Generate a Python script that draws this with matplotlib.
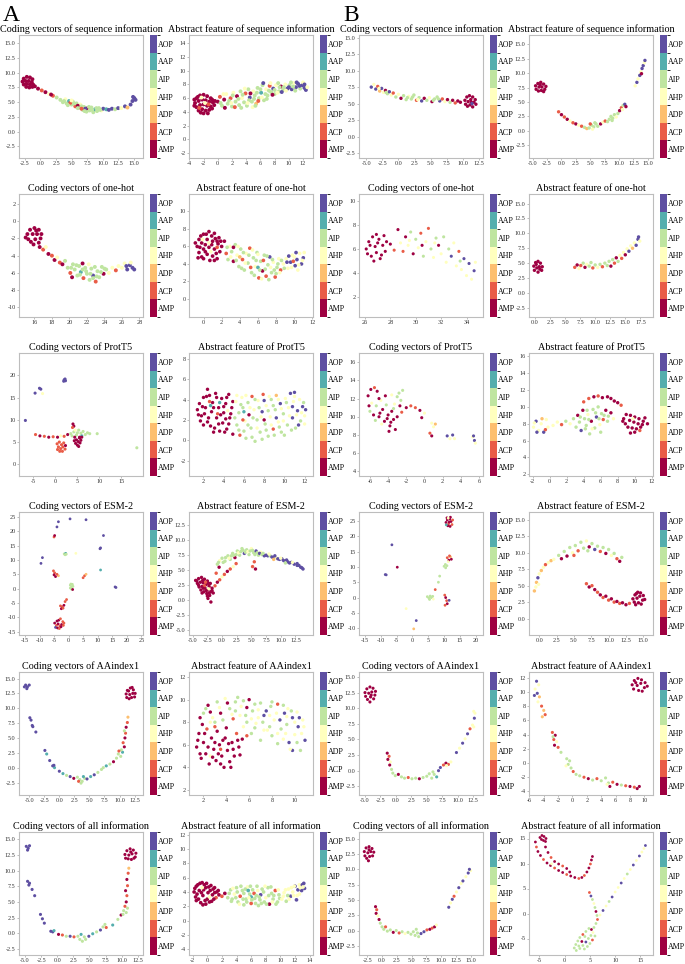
import numpy as np
import matplotlib
matplotlib.use("Agg")
import matplotlib.pyplot as plt
from matplotlib.colors import ListedColormap, BoundaryNorm
from matplotlib.cm import ScalarMappable
from matplotlib.ticker import FormatStrFormatter

# class index: 0=AMP 1=ACP 2=ADP 3=AHP 4=AIP 5=AAP 6=AOP
CLASSES = ["AMP", "ACP", "ADP", "AHP", "AIP", "AAP", "AOP"]

# ---- points: (umap1, umap2, class) ----
A_SEQ_CODE = [
    (-2.7, 9.0, 0), (-2.2, 9.3, 0), (-1.7, 9.2, 0), (-1.3, 8.9, 0), (-2.9, 8.5, 0), (-2.4, 8.6, 0),
    (-1.9, 8.6, 0), (-1.4, 8.4, 0), (-2.7, 8.0, 0), (-2.2, 8.1, 0), (-1.7, 8.0, 0), (-1.2, 8.0, 0),
    (-2.3, 7.6, 0), (-1.8, 7.5, 0), (-1.3, 7.6, 0), (-0.9, 7.7, 0),
    (-0.4, 7.3, 0), (0.2, 7.0, 1), (0.8, 6.7, 0), (1.4, 6.4, 3), (2.0, 6.1, 1), (2.6, 5.8, 4), (1.7, 6.3, 0),
    (3.2, 5.4, 4), (3.6, 5.0, 4), (4.0, 5.5, 3), (4.2, 4.8, 4), (4.6, 5.2, 5), (5.0, 4.6, 4), (5.2, 5.1, 4),
    (5.6, 4.3, 1), (5.8, 4.8, 4), (6.2, 4.1, 4), (6.4, 4.6, 3), (6.8, 3.7, 4), (7.0, 4.2, 4), (7.4, 3.4, 4),
    (7.6, 4.0, 0), (7.9, 3.6, 4), (8.2, 4.1, 4), (8.5, 3.3, 4), (8.8, 3.8, 5), (9.1, 3.5, 4), (9.4, 4.0, 4),
    (9.8, 3.6, 3), (10.1, 3.9, 6), (6.0, 4.4, 0), (4.8, 4.9, 1), (7.2, 3.9, 6),
    (3.8, 5.2, 4), (4.4, 4.5, 4), (5.4, 4.8, 4), (6.0, 4.0, 4), (6.6, 4.3, 4), (7.1, 3.5, 4), (7.8, 4.2, 4),
    (8.3, 3.7, 4), (9.0, 4.0, 4), (9.6, 3.7, 4), (5.0, 5.3, 3), (6.6, 3.9, 1),
    (10.6, 3.8, 5), (11.0, 3.7, 6), (11.5, 3.9, 6), (12.0, 3.8, 4), (12.5, 4.0, 6), (13.0, 4.0, 3),
    (13.6, 4.3, 6), (14.0, 4.1, 2), (14.5, 4.6, 6), (14.8, 5.2, 6), (15.1, 5.7, 6), (15.3, 5.4, 6), (14.9, 5.9, 6),
]

A_SEQ_ABS = [
    (-3.0, 6.0, 0), (-2.5, 6.4, 0), (-2.0, 6.5, 0), (-1.5, 6.3, 0), (-1.0, 6.0, 0), (-3.2, 5.3, 0),
    (-2.7, 5.6, 0), (-2.2, 5.8, 0), (-1.7, 5.7, 0), (-1.2, 5.5, 0), (-0.7, 5.4, 0), (-3.0, 4.7, 0),
    (-2.5, 5.0, 0), (-2.0, 5.1, 0), (-1.5, 4.9, 0), (-1.0, 4.8, 0), (-0.5, 5.0, 0), (-2.7, 4.2, 0),
    (-2.2, 4.4, 0), (-1.7, 4.2, 0), (-1.2, 4.3, 0), (-2.0, 3.8, 0), (-1.8, 5.3, 3), (-2.6, 4.6, 1),
    (-3.3, 5.8, 0), (-2.8, 6.2, 0), (-0.8, 5.8, 0), (-0.4, 5.6, 0), (-3.3, 4.9, 0), (-2.4, 3.9, 0),
    (-1.4, 3.8, 0), (-0.8, 4.5, 0), (-2.3, 6.1, 3), (-1.3, 5.1, 1),
    (0.0, 5.5, 0), (0.3, 6.2, 1), (0.6, 4.9, 4), (0.9, 5.8, 0), (1.2, 6.6, 3), (1.4, 5.2, 4), (1.8, 6.0, 1),
    (2.0, 4.8, 4), (2.2, 6.8, 3), (2.5, 5.5, 4), (2.7, 6.3, 0),
    (3.0, 5.0, 4), (3.2, 7.0, 4), (3.4, 6.0, 3), (3.7, 5.4, 4), (3.9, 6.7, 1), (4.1, 4.9, 4), (4.3, 7.3, 4),
    (4.5, 6.1, 6), (4.8, 5.5, 4), (5.0, 7.0, 3), (5.2, 6.4, 4), (5.4, 5.2, 2), (5.6, 7.5, 4), (5.8, 6.0, 4),
    (6.1, 6.8, 5), (6.3, 7.9, 4), (6.5, 5.7, 4), (6.8, 7.3, 3), (7.0, 6.4, 4), (7.3, 7.8, 1), (7.5, 6.9, 4),
    (7.8, 7.4, 6), (8.0, 6.6, 4), (8.2, 7.9, 3),
    (8.6, 7.0, 4), (8.9, 7.7, 0), (9.2, 7.2, 4), (9.5, 8.0, 3), (9.8, 7.4, 6), (10.1, 7.9, 4), (10.4, 7.3, 6),
    (10.7, 8.2, 3), (11.0, 7.6, 6), (11.3, 8.1, 6), (11.6, 7.4, 4), (11.9, 7.9, 6), (12.2, 7.5, 6),
    (12.4, 7.2, 6), (12.0, 8.3, 3),
    (0.4, 5.3, 4), (0.8, 6.6, 3), (1.0, 4.6, 0), (1.6, 5.6, 4), (2.1, 6.4, 4), (2.4, 4.7, 1), (2.9, 5.9, 4),
    (3.3, 4.6, 4), (3.5, 6.5, 4), (3.8, 7.4, 3), (4.4, 5.7, 4), (4.6, 6.7, 0), (4.9, 4.7, 3), (5.1, 5.9, 4),
    (5.5, 6.8, 4), (5.7, 5.6, 1), (6.0, 7.3, 4), (6.2, 6.1, 3), (6.4, 8.2, 6), (6.7, 6.6, 4), (6.9, 5.9, 4),
    (7.2, 7.1, 4), (7.4, 8.2, 3), (7.7, 6.5, 0), (8.0, 7.2, 4), (8.4, 6.8, 3), (8.7, 7.6, 4), (9.0, 6.9, 6),
    (9.3, 7.6, 4), (9.6, 7.1, 3), (10.0, 7.6, 6), (10.3, 8.3, 4), (10.6, 7.7, 4), (11.1, 8.3, 6),
    (11.5, 7.8, 6), (12.2, 8.0, 6), (12.6, 7.6, 3), (10.9, 7.1, 4), (8.5, 8.2, 4), (5.3, 4.9, 4),
    (4.2, 5.3, 3), (1.9, 5.3, 3),
]

B_SEQ_CODE = [
    (-4.2, 7.5, 6), (-3.8, 7.9, 3), (-3.5, 7.2, 6), (-3.2, 7.6, 1), (-2.9, 6.9, 2), (-2.6, 7.3, 6),
    (-2.3, 6.7, 3), (-2.0, 7.0, 0), (-1.7, 6.5, 4), (-1.4, 6.8, 6), (-1.1, 6.3, 3), (-0.8, 6.6, 1),
    (-0.4, 6.0, 4), (0.0, 6.4, 3), (0.4, 5.8, 0), (0.8, 6.2, 4), (1.2, 5.6, 4), (1.6, 6.1, 3), (2.0, 5.7, 4),
    (2.4, 6.3, 4), (2.8, 5.5, 1), (3.2, 5.9, 4), (3.6, 5.4, 6), (4.0, 5.8, 0), (4.4, 5.5, 4), (4.8, 5.9, 3),
    (5.2, 5.3, 0), (5.6, 5.7, 4), (6.0, 6.0, 4), (6.4, 5.4, 6), (6.8, 5.7, 1), (7.2, 5.3, 3), (7.6, 5.6, 0),
    (8.0, 5.2, 4), (8.4, 5.5, 0), (8.8, 5.1, 1), (9.2, 5.4, 0), (9.6, 5.2, 0),
    (1.4, 5.9, 4), (2.2, 6.0, 4), (3.0, 5.6, 3), (5.4, 5.5, 4), (6.2, 5.7, 4), (-3.0, 7.3, 3), (-1.9, 6.7, 4),
    (10.3, 5.5, 0), (10.6, 6.0, 0), (11.0, 6.2, 0), (11.5, 6.0, 0), (11.9, 5.6, 0), (10.4, 4.9, 0),
    (10.8, 5.3, 0), (11.2, 5.6, 0), (11.7, 5.2, 0), (12.0, 4.9, 0), (10.7, 4.6, 0), (11.1, 4.8, 0),
    (11.5, 4.5, 0), (11.3, 5.2, 0), (11.4, 5.0, 6),
]

B_SEQ_ABS = [
    (-4.5, 7.8, 0), (-4.1, 8.2, 0), (-3.6, 8.4, 0), (-3.1, 8.1, 0), (-2.7, 7.7, 0), (-4.4, 7.2, 0),
    (-3.9, 7.6, 0), (-3.4, 7.6, 0), (-2.9, 7.2, 0), (-4.0, 6.9, 0), (-3.5, 7.0, 0), (-3.1, 6.8, 0), (-3.7, 8.0, 0),
    (-0.5, 3.3, 1), (0.0, 2.8, 0), (0.5, 2.4, 1), (1.0, 2.0, 0), (1.5, 1.7, 3), (2.0, 1.4, 1), (2.5, 1.2, 0),
    (3.0, 1.0, 3), (3.5, 0.8, 1), (4.0, 0.6, 4), (4.4, 0.4, 2),
    (4.8, 0.5, 4), (5.2, 1.0, 4), (5.6, 0.7, 4), (6.0, 1.2, 4), (5.4, 0.3, 3), (6.3, 0.8, 4), (5.0, 1.2, 1), (5.8, 1.4, 4),
    (6.8, 1.2, 0), (7.2, 1.5, 3), (7.6, 1.7, 1), (8.0, 1.6, 4), (8.3, 2.0, 4), (8.6, 2.5, 4), (8.9, 2.2, 4),
    (9.2, 2.8, 4), (9.5, 2.4, 3), (8.8, 1.8, 4), (9.8, 3.0, 4), (10.1, 3.5, 0), (10.4, 4.0, 1), (10.7, 4.4, 4),
    (11.0, 4.6, 6), (11.2, 4.2, 0), (10.6, 3.7, 3),
    (12.8, 7.8, 3), (13.1, 8.4, 6), (13.3, 9.0, 3), (13.6, 9.6, 6), (13.8, 10.2, 3), (14.0, 10.8, 6),
    (14.2, 11.3, 6), (14.4, 11.8, 3), (14.5, 12.2, 6), (13.9, 9.9, 0),
]

A_ONEHOT_CODE = [
    (15.2, -1.5, 0), (15.5, -1.0, 0), (16.0, -0.8, 0), (16.5, -1.0, 0), (16.8, -1.5, 0), (15.3, -2.1, 0),
    (15.8, -1.5, 0), (16.3, -1.5, 0), (16.7, -2.0, 0), (15.6, -2.4, 0), (16.1, -2.1, 0), (16.5, -2.5, 0),
    (15.9, -2.7, 0), (15.0, -1.9, 0), (16.2, -1.1, 0),
    (16.6, -3.0, 0), (17.0, -3.3, 1), (17.3, -3.0, 3), (17.6, -3.8, 0), (18.0, -4.0, 1), (18.3, -4.5, 0),
    (18.6, -4.2, 3), (18.9, -4.8, 1), (19.2, -5.0, 0), (19.5, -4.6, 4),
    (19.8, -5.4, 4), (20.1, -6.0, 1), (20.4, -5.0, 4), (20.6, -5.6, 4), (20.9, -6.3, 4), (21.1, -5.2, 4),
    (21.3, -5.9, 5), (21.6, -6.6, 1), (21.8, -5.4, 4), (22.0, -6.1, 4), (22.3, -6.8, 4), (22.5, -5.5, 4),
    (22.7, -6.3, 6), (23.0, -7.0, 1), (23.2, -5.8, 4), (23.4, -6.5, 4), (23.7, -5.3, 4), (23.9, -6.1, 0),
    (24.2, -5.6, 4), (24.5, -6.0, 3), (21.5, -4.9, 0), (22.2, -5.0, 3), (20.3, -6.5, 0),
    (20.2, -5.4, 4), (20.8, -5.1, 4), (21.2, -6.2, 4), (21.9, -5.8, 4), (22.4, -6.1, 4), (22.9, -5.3, 4),
    (23.1, -6.4, 4), (23.6, -5.9, 4), (24.0, -5.5, 4), (21.5, -5.6, 4), (22.7, -6.6, 4),
    (24.9, -5.4, 3), (25.3, -5.7, 1), (25.6, -5.2, 3), (26.0, -5.4, 3), (26.3, -4.9, 3), (26.6, -5.6, 6),
    (26.9, -5.1, 6), (27.2, -5.4, 6), (27.0, -4.8, 3), (26.5, -5.2, 6), (27.4, -5.6, 6),
]

A_ONEHOT_ABS = [
    (-0.5, 6.8, 0), (0.0, 7.4, 0), (0.6, 7.7, 0), (1.2, 7.5, 0), (1.7, 7.0, 0), (-0.7, 6.0, 0), (-0.2, 6.4, 0),
    (0.4, 6.8, 0), (1.0, 6.6, 0), (1.6, 6.3, 0), (2.0, 6.0, 0), (-0.5, 5.3, 0), (0.0, 5.7, 0), (0.6, 5.9, 0),
    (1.2, 5.7, 0), (1.8, 5.4, 0), (-0.2, 4.8, 0), (0.4, 5.1, 0), (1.0, 4.9, 0), (1.5, 4.6, 0), (0.7, 4.4, 0),
    (0.2, 6.2, 0), (1.3, 6.9, 0), (0.8, 5.4, 3), (-0.1, 6.8, 3), (1.5, 5.9, 1),
    (-0.9, 6.4, 0), (-0.3, 7.2, 0), (0.3, 7.4, 0), (0.9, 7.2, 0), (1.5, 6.6, 0), (-0.4, 5.9, 0), (0.2, 5.4, 0),
    (0.9, 6.2, 0), (1.4, 5.2, 0), (1.9, 6.6, 0), (-0.6, 4.7, 0), (0.0, 4.6, 0), (1.2, 4.4, 0), (0.6, 6.4, 3),
    (2.3, 6.6, 0), (2.5, 5.2, 1), (2.7, 4.5, 4), (2.9, 6.0, 3), (3.1, 5.4, 4), (3.3, 4.3, 0), (3.5, 6.2, 4),
    (3.7, 5.0, 3), (3.9, 3.7, 4), (4.1, 5.7, 4), (4.3, 4.5, 1), (4.5, 3.3, 4), (4.7, 5.2, 3), (4.9, 4.1, 4),
    (5.1, 5.8, 1), (5.3, 3.0, 4), (5.5, 4.7, 4), (5.7, 3.7, 3), (5.9, 5.3, 4), (6.1, 2.4, 1), (6.3, 4.3, 4),
    (6.5, 3.2, 0), (6.7, 5.0, 4), (6.9, 2.6, 1), (7.1, 3.9, 4), (7.3, 4.8, 6), (7.5, 3.0, 4), (7.7, 4.2, 3),
    (7.9, 2.5, 1), (8.1, 3.6, 4), (8.3, 4.6, 3), (8.5, 3.3, 1), (6.0, 3.6, 5), (4.0, 4.8, 2),
    (2.6, 5.9, 4), (3.0, 4.8, 3), (3.3, 5.9, 0), (3.6, 4.4, 4), (3.8, 6.0, 3), (4.2, 3.5, 4), (4.4, 5.3, 4),
    (4.6, 4.1, 3), (5.0, 5.0, 4), (5.2, 3.6, 1), (5.4, 5.6, 3), (5.6, 2.7, 4), (5.8, 4.4, 4), (6.0, 5.1, 3),
    (6.2, 3.3, 4), (6.4, 2.3, 3), (6.6, 4.4, 1), (6.8, 3.4, 4), (7.0, 4.9, 4), (7.2, 2.2, 4), (7.4, 3.6, 3),
    (7.6, 4.5, 4), (7.8, 3.3, 4), (8.0, 2.9, 4), (8.2, 4.0, 4), (8.4, 3.0, 3), (8.6, 4.4, 4), (8.9, 3.5, 4),
    (8.8, 4.0, 3), (9.1, 4.6, 3), (9.3, 3.5, 3), (9.6, 4.2, 6), (9.8, 5.0, 3), (10.1, 3.8, 6), (10.3, 4.5, 6),
    (10.6, 5.2, 3), (10.8, 4.0, 6), (11.0, 4.7, 6), (10.4, 3.3, 3), (9.9, 4.3, 1), (11.1, 5.3, 3),
    (9.4, 4.9, 6), (9.7, 3.6, 3), (10.0, 4.8, 3), (10.5, 3.9, 3), (10.9, 4.4, 3), (10.2, 5.3, 6), (9.2, 4.2, 6),
]

B_ONEHOT_CODE = [
    (26.1, 6.0, 0), (26.3, 6.6, 0), (26.5, 5.4, 0), (26.6, 7.0, 0), (26.8, 6.2, 0), (26.9, 5.7, 0),
    (27.1, 6.8, 0), (27.2, 5.2, 0), (27.4, 6.3, 0), (27.5, 7.1, 0), (27.6, 5.8, 0), (26.4, 6.3, 0),
    (26.7, 5.0, 0), (27.0, 6.5, 0), (27.3, 5.5, 0), (27.7, 6.6, 0), (26.2, 5.6, 0), (26.9, 7.2, 0),
    (28.0, 6.4, 0), (28.3, 5.9, 1), (28.6, 7.6, 0), (28.8, 6.5, 3), (29.0, 5.8, 1), (29.2, 7.0, 0),
    (29.4, 6.3, 3), (29.6, 7.4, 4), (29.8, 5.6, 0), (30.0, 6.8, 4), (30.2, 6.1, 3), (30.4, 7.3, 1),
    (30.6, 5.4, 4), (30.8, 6.6, 3), (31.0, 7.7, 1), (31.2, 6.0, 4), (31.4, 5.3, 3), (31.6, 6.9, 4),
    (31.8, 6.3, 0), (32.0, 5.6, 3), (32.2, 7.0, 4), (32.4, 4.9, 3), (32.6, 6.0, 4), (32.8, 5.4, 6),
    (33.0, 6.5, 3), (33.2, 4.6, 3), (33.4, 5.8, 1), (33.6, 4.3, 3), (33.8, 5.2, 6), (34.0, 3.8, 3),
    (34.2, 4.8, 6), (34.4, 3.5, 3), (34.6, 4.2, 6), (34.7, 4.9, 3), (31.5, 6.5, 3), (30.5, 6.3, 0),
    (29.5, 6.7, 3), (33.5, 5.0, 4),
]

B_ONEHOT_ABS = [
    (-0.2, 4.5, 0), (0.1, 5.1, 0), (0.5, 5.3, 0), (0.9, 5.0, 0), (1.2, 4.4, 0), (-0.1, 3.8, 0),
    (0.3, 4.2, 0), (0.7, 4.4, 0), (1.1, 3.8, 0), (0.5, 3.5, 0), (0.2, 4.8, 0), (0.8, 4.0, 0),
    (6.6, 4.3, 1), (7.0, 4.7, 0), (7.3, 4.1, 3), (7.6, 4.6, 1), (8.0, 5.0, 4), (8.3, 4.3, 0), (8.6, 4.8, 3),
    (9.0, 4.5, 4), (9.3, 5.1, 4), (9.6, 4.2, 1), (10.0, 4.7, 4), (10.4, 4.3, 3), (10.8, 4.8, 4),
    (11.2, 4.4, 1), (11.6, 5.0, 4), (12.0, 4.6, 4), (12.3, 5.3, 4), (12.6, 4.5, 0), (12.9, 5.6, 4),
    (13.2, 5.0, 1), (13.5, 5.9, 0), (13.8, 5.3, 4), (14.1, 6.3, 3), (14.4, 5.8, 1), (14.7, 6.8, 3),
    (15.0, 6.4, 0), (15.3, 7.4, 3), (15.6, 7.0, 6), (15.9, 7.9, 3), (16.2, 7.5, 2), (16.5, 8.4, 3),
    (16.8, 8.0, 6), (17.1, 9.0, 6), (17.4, 8.7, 3), (17.2, 9.4, 6),
]

A_PROT_CODE = [
    (2.0, 19.0, 6), (2.3, 18.8, 6), (2.2, 19.2, 6), (1.9, 18.7, 6),
    (-3.6, 17.1, 6), (-3.3, 16.9, 6), (-4.6, 16.0, 6), (-2.9, 15.9, 3), (-6.8, 9.8, 6),
    (4.0, 9.0, 0), (4.2, 8.5, 0), (3.9, 8.2, 1),
    (-4.5, 6.6, 1), (-3.5, 6.3, 0), (-2.5, 6.2, 1), (-1.5, 6.0, 0), (-0.5, 6.1, 1), (0.5, 6.0, 0),
    (1.2, 6.3, 3), (2.0, 6.2, 1), (2.8, 6.6, 0),
    (3.5, 6.8, 4), (4.2, 7.2, 4), (4.8, 6.5, 4), (5.3, 7.6, 4), (5.8, 6.9, 4), (6.3, 7.3, 4), (6.8, 6.6, 4),
    (7.3, 7.0, 4), (6.0, 6.3, 5), (5.0, 7.0, 4), (3.8, 6.3, 4), (7.8, 6.8, 4), (5.5, 6.0, 0), (4.5, 7.6, 3),
    (4.4, 6.0, 0), (4.8, 5.4, 0), (5.2, 5.0, 0), (4.6, 4.6, 0), (5.5, 5.8, 0), (5.0, 4.2, 0), (5.6, 4.7, 0),
    (4.3, 5.2, 0), (5.8, 5.3, 0), (5.3, 3.9, 0), (6.0, 6.0, 0),
    (0.4, 4.5, 1), (0.9, 4.9, 1), (1.4, 4.3, 1), (1.9, 4.7, 1), (0.7, 3.8, 1), (1.2, 3.4, 1), (1.7, 3.8, 1),
    (2.2, 3.3, 1), (1.0, 2.8, 1), (1.6, 2.8, 1), (2.3, 4.1, 0), (0.5, 3.2, 1),
    (9.5, 6.8, 4), (18.5, 3.6, 4),
]

A_PROT_ABS = [
    (1.4, 3.0, 0), (1.6, 3.6, 0), (1.8, 2.4, 0), (2.0, 4.2, 0), (2.2, 3.2, 0), (2.4, 5.0, 0), (2.4, 1.8, 0),
    (2.6, 4.4, 0), (2.8, 2.8, 0), (2.9, 3.7, 0), (3.1, 1.2, 0), (3.2, 4.6, 0), (3.3, 2.2, 0), (3.5, 3.2, 0),
    (3.6, 0.9, 0), (3.8, 4.1, 0), (3.9, 1.7, 0), (4.0, 2.7, 0), (4.2, 3.6, 0), (4.3, 1.1, 0), (4.5, 4.5, 0),
    (4.6, 2.2, 0), (4.8, 3.2, 0), (4.9, 0.6, 0), (1.7, 1.9, 0), (2.1, 2.6, 0), (3.0, 0.8, 0),
    (2.7, 3.4, 5), (3.4, 2.6, 1), (4.4, 2.9, 3),
    (1.5, 2.5, 0), (1.9, 3.3, 0), (2.3, 4.3, 0), (2.5, 2.2, 0), (2.7, 1.4, 0), (3.0, 3.2, 0), (3.3, 4.2, 0),
    (3.5, 1.6, 0), (3.7, 2.5, 0), (4.0, 3.3, 0), (4.1, 0.8, 0), (4.3, 4.2, 0), (4.5, 1.6, 0), (4.7, 2.6, 0),
    (4.9, 3.8, 0), (4.2, 2.1, 0), (2.0, 1.5, 0), (3.6, 3.7, 5), (2.6, 3.8, 1),
    (5.2, 3.8, 3), (5.3, 1.5, 4), (5.5, 2.7, 4), (5.6, 0.5, 1), (5.8, 4.2, 3), (5.9, 3.2, 4), (6.1, 1.9, 3),
    (6.2, 0.2, 4), (6.4, 3.7, 4), (6.5, 2.5, 0), (6.7, 1.2, 4), (6.8, 4.3, 1), (7.0, 3.0, 3), (7.1, -0.1, 4),
    (7.3, 2.0, 4), (7.4, 3.9, 3), (7.6, 0.8, 4), (7.8, 2.8, 6), (7.9, 4.5, 1), (8.1, 1.6, 4), (8.2, 3.4, 3),
    (8.4, 0.4, 4), (8.6, 2.3, 3), (8.7, 4.0, 4), (8.9, 1.1, 1), (9.1, 3.0, 4), (9.2, 4.4, 2), (9.4, 1.8, 3),
    (9.6, 3.6, 6), (9.7, 0.8, 4), (9.9, 2.6, 4), (10.1, 4.1, 3), (10.3, 1.5, 4), (10.4, 3.2, 3),
    (10.6, 4.6, 6), (10.8, 2.2, 6), (10.9, 3.8, 3), (11.1, 1.2, 4), (11.3, 2.9, 6), (11.5, 4.0, 3),
    (11.6, 1.9, 4), (11.8, 3.3, 6), (12.0, 2.4, 3), (11.0, 4.7, 6), (6.0, 2.8, 5), (8.0, 2.0, 0),
    (5.1, 2.2, 4), (5.3, 4.4, 3), (5.5, 1.0, 4), (5.7, 3.5, 4), (5.9, 2.0, 1), (6.0, 0.9, 4), (6.2, 4.4, 3),
    (6.4, 1.5, 4), (6.6, 3.2, 3), (6.8, 0.3, 4), (6.9, 2.2, 4), (7.1, 4.0, 4), (7.3, 1.2, 3), (7.5, 3.2, 4),
    (7.7, 2.3, 3), (7.8, 0.1, 4), (8.0, 3.9, 6), (8.2, 1.0, 4), (8.4, 2.9, 4), (8.5, 4.3, 3), (8.7, 1.5, 3),
    (8.9, 3.4, 4), (9.0, 0.5, 4), (9.2, 2.2, 6), (9.4, 4.0, 3), (9.5, 1.3, 4), (9.7, 3.1, 3), (9.9, 1.9, 3),
    (10.0, 0.5, 4), (10.2, 3.7, 4), (10.5, 2.4, 3), (10.7, 1.0, 4), (10.8, 3.3, 6), (11.0, 4.3, 3),
    (11.2, 2.5, 3), (11.4, 1.5, 6), (11.7, 2.7, 3), (11.9, 3.7, 4), (12.1, 3.0, 6), (12.0, 1.6, 3),
]

B_PROT_CODE = [
    (-6.2, 12.3, 0), (-5.9, 13.0, 0), (-5.5, 13.2, 1), (-5.2, 12.8, 0), (-5.8, 11.5, 3), (-6.0, 10.6, 4),
    (-5.6, 10.2, 0), (-5.3, 11.2, 4), (-5.0, 10.0, 0), (-4.8, 11.8, 3), (-4.6, 10.8, 0), (-4.4, 9.5, 0),
    (-4.2, 11.3, 4), (-4.0, 10.2, 0), (-3.8, 9.0, 0), (-3.6, 10.6, 0), (-3.4, 9.7, 0), (-3.2, 8.6, 0),
    (-3.0, 10.0, 0), (-3.9, 8.4, 0), (-4.7, 9.2, 3), (-5.4, 9.6, 4), (-2.8, 12.6, 4), (-2.6, 11.8, 4),
    (-3.0, 12.2, 4), (-2.4, 12.9, 4), (-3.3, 11.4, 3), (-2.7, 11.2, 0), (-3.6, 12.4, 3), (-4.3, 12.3, 0),
    (-5.0, 12.0, 0), (-3.4, 10.9, 4), (-2.5, 10.5, 1), (-4.9, 10.4, 0), (-6.1, 11.2, 0), (-3.7, 9.4, 0),
    (-4.1, 9.8, 0),
    (-2.0, 11.0, 0), (-1.5, 11.2, 1), (-1.0, 11.0, 1), (-0.5, 10.7, 0), (0.0, 10.4, 3), (-0.3, 9.9, 0),
    (0.8, 9.3, 3), (1.0, 8.9, 3), (1.2, 9.2, 2), (0.6, 8.2, 1), (0.8, 7.9, 0), (2.5, 7.9, 6), (2.8, 7.6, 3),
    (3.1, 8.0, 6), (3.3, 7.6, 3), (5.3, 7.8, 3), (5.5, 7.4, 6), (5.6, 7.1, 3), (5.4, 7.9, 6),
]

B_PROT_ABS = [
    (-1.9, 7.6, 3), (-1.6, 8.3, 6), (-1.3, 7.2, 3), (-1.0, 8.0, 3), (-0.7, 7.0, 6), (-0.4, 8.5, 3),
    (-0.2, 7.6, 3), (-1.5, 7.0, 6), (-0.9, 8.6, 2), (-1.8, 8.1, 3), (-0.5, 7.3, 1),
    (0.4, 7.8, 3), (0.9, 8.2, 3), (1.4, 7.9, 1), (1.9, 8.3, 4), (2.4, 8.0, 3), (2.8, 8.6, 4),
    (3.1, 7.6, 4), (3.3, 9.0, 0), (3.5, 8.2, 4), (3.7, 7.2, 6), (3.9, 9.6, 0), (4.1, 8.6, 4), (4.3, 7.8, 4),
    (4.5, 9.1, 3), (4.7, 6.8, 4), (4.9, 8.3, 0), (5.1, 9.7, 4), (5.3, 7.5, 4), (5.5, 8.8, 6), (5.7, 10.0, 4),
    (5.9, 7.9, 3), (6.1, 9.2, 4), (6.3, 8.5, 1), (6.6, 9.6, 0), (6.9, 8.9, 4), (7.2, 9.3, 0), (7.5, 8.6, 3),
    (4.0, 10.6, 1), (6.0, 7.0, 4),
    (3.6, 8.8, 4), (4.2, 7.4, 4), (4.6, 8.5, 4), (5.0, 7.4, 3), (5.4, 9.3, 4), (5.8, 8.6, 4), (6.4, 9.0, 4),
    (6.8, 8.3, 4), (4.4, 9.6, 4),
    (5.2, 11.2, 0), (5.7, 11.3, 1), (6.2, 11.1, 0), (6.8, 11.2, 0), (7.2, 11.0, 0), (7.6, 10.7, 0),
    (8.0, 10.5, 0), (8.4, 10.2, 1), (4.6, 11.0, 1),
    (8.7, 8.6, 0), (9.0, 9.1, 0), (9.5, 9.0, 0), (10.0, 8.8, 0), (10.5, 8.6, 0), (11.0, 8.3, 0), (11.5, 8.0, 0),
    (8.9, 8.0, 0), (9.4, 8.4, 0), (9.9, 8.2, 0), (10.4, 8.0, 0), (10.9, 7.9, 0), (9.2, 7.6, 0), (9.7, 7.5, 0),
    (10.2, 7.4, 0), (10.7, 7.6, 0), (10.0, 7.0, 0), (9.5, 6.9, 0), (11.2, 8.7, 0), (8.6, 8.3, 0),
    (9.8, 8.6, 3), (10.6, 7.2, 1),
]

A_ESM_CODE = [
    (-3.5, 23.3, 6), (-4.0, 21.5, 6), (0.5, 24.3, 6), (6.0, 24.0, 6), (12.0, 18.5, 6),
    (-5.0, 18.0, 1), (-4.8, 18.5, 0), (-9.0, 10.8, 6), (-9.5, 8.8, 6),
    (-1.5, 12.1, 4), (-1.0, 12.3, 5), (-1.2, 11.8, 4), (-0.8, 12.0, 4), (2.5, 12.3, 3),
    (11.0, 14.2, 6), (10.8, 13.9, 6), (11.0, 6.5, 5),
    (-5.2, 6.2, 1), (-4.8, 5.5, 1), (-4.5, 4.2, 0), (-3.5, 4.5, 2), (-4.0, 5.0, 1), (-5.0, 4.8, 0),
    (5.5, 4.5, 1), (5.0, 3.8, 1), (6.0, 5.0, 2),
    (0.6, 1.2, 4), (1.0, 0.5, 4), (1.3, 1.5, 4), (1.0, -0.2, 4), (0.6, 0.2, 4), (1.5, 0.8, 4), (0.8, 1.6, 4),
    (1.4, -0.3, 0), (16.0, 0.6, 6), (16.3, 0.4, 6),
    (-2.8, -6.0, 1), (-2.2, -6.3, 1), (-1.6, -5.8, 0), (-1.2, -4.5, 1), (-0.7, -3.8, 1), (-2.5, -7.0, 0),
    (-1.9, -6.8, 1),
    (-4.8, -12.0, 0), (-4.2, -12.8, 1), (-3.6, -12.3, 0), (-3.0, -13.0, 1), (-2.4, -12.5, 0),
    (-1.8, -12.8, 1), (-4.5, -13.5, 6), (-3.8, -13.7, 0), (-3.2, -13.9, 1), (-2.6, -13.3, 0),
    (-2.0, -11.5, 1), (-3.4, -11.0, 0), (-2.8, -10.5, 1), (-4.0, -11.3, 0), (-1.6, -12.0, 1),
]

A_ESM_ABS = [
    (-4.5, 3.3, 0), (-4.0, 3.6, 0), (-3.5, 3.8, 0), (-3.0, 3.5, 0), (-2.5, 3.2, 0), (-2.0, 2.8, 0),
    (-4.2, 2.8, 0), (-3.7, 3.0, 0), (-3.2, 2.9, 0), (-2.7, 2.6, 0), (-2.2, 2.3, 0), (-1.7, 2.0, 0),
    (-3.9, 2.2, 0), (-3.4, 2.3, 0), (-2.9, 2.0, 0), (-2.4, 1.7, 0), (-1.9, 1.4, 0), (-3.1, 1.4, 0),
    (-2.6, 1.1, 0), (-2.1, 0.8, 0), (-2.4, 0.3, 0), (-1.9, -0.3, 0), (-1.5, 1.2, 0), (-3.6, 1.7, 0),
    (-3.0, 2.4, 1), (-2.3, 1.9, 3), (-2.8, 3.0, 1),
    (-4.3, 3.2, 0), (-3.3, 3.3, 0), (-2.3, 2.8, 0), (-4.0, 2.5, 0), (-3.2, 2.0, 0), (-2.7, 1.6, 0),
    (-2.2, 1.2, 0), (-1.7, 1.6, 0), (-3.4, 1.2, 0), (-2.5, 0.7, 0),
    (-1.2, 2.4, 1), (-0.8, 3.0, 0), (-0.4, 3.4, 1), (0.0, 3.9, 3), (0.4, 4.3, 1), (0.9, 4.8, 0),
    (1.4, 5.2, 1), (1.9, 5.6, 3), (2.4, 6.1, 1), (-1.0, 4.5, 1), (-0.5, 5.5, 0),
    (-0.8, 6.0, 4), (-0.4, 6.6, 3), (0.0, 7.0, 4), (0.5, 6.5, 4), (1.0, 7.4, 4), (1.4, 6.8, 4), (1.8, 7.8, 4),
    (2.2, 7.1, 0), (2.6, 8.2, 4), (3.0, 7.5, 4), (3.4, 8.6, 4), (3.8, 7.8, 6), (4.2, 8.4, 4), (4.6, 7.6, 4),
    (5.0, 8.6, 3), (5.4, 7.9, 4), (5.8, 8.2, 6), (6.2, 7.5, 4), (6.6, 8.0, 3), (5.5, 6.4, 1), (5.2, 5.6, 1),
    (5.7, 5.2, 0),
    (-0.6, 6.3, 4), (0.2, 6.3, 4), (0.6, 7.1, 4), (1.2, 7.0, 3), (1.6, 7.4, 4), (2.0, 7.5, 4), (2.4, 7.6, 4),
    (2.8, 7.9, 3), (3.2, 8.1, 4), (3.6, 8.3, 4), (4.0, 8.0, 4), (4.4, 8.1, 3), (4.8, 8.2, 4), (5.2, 8.3, 4),
    (5.6, 7.6, 4), (6.0, 7.9, 4), (6.4, 7.8, 6), (6.8, 7.6, 4), (7.2, 7.4, 6), (7.8, 7.4, 6), (8.2, 7.4, 4),
    (8.8, 7.1, 6), (9.2, 7.1, 3), (9.8, 6.8, 6), (10.2, 6.9, 6), (10.8, 6.6, 3), (11.2, 6.4, 6),
    (11.8, 6.3, 6), (12.3, 6.0, 6), (13.1, 5.8, 6), (13.6, 5.4, 6),
    (7.0, 7.8, 4), (7.5, 7.5, 6), (8.0, 7.7, 3), (8.5, 7.2, 6), (9.0, 7.4, 6), (9.5, 6.9, 6), (10.0, 7.0, 3),
    (10.5, 6.6, 6), (11.0, 6.7, 6), (11.5, 6.2, 6), (12.0, 6.3, 3), (12.8, 5.8, 6), (13.4, 5.5, 6),
    (13.8, 5.2, 6), (12.8, 6.1, 6), (8.8, 6.8, 2), (10.8, 6.2, 4),
]

B_ESM_CODE = [
    (10.6, 24.5, 0), (11.0, 25.3, 0), (11.4, 24.0, 1), (11.8, 25.6, 0), (12.2, 24.8, 0), (12.5, 23.8, 1),
    (11.2, 23.4, 0), (10.9, 26.0, 0), (12.0, 26.2, 0), (11.6, 24.6, 0), (12.7, 25.3, 1), (10.7, 23.7, 5),
    (11.9, 23.2, 0), (11.3, 25.9, 3),
    (-6.5, 17.2, 6), (-4.8, 9.9, 0), (-8.6, 7.5, 6), (-8.3, 7.4, 6),
    (11.0, 13.0, 1), (11.5, 12.2, 0), (12.0, 13.3, 2), (11.3, 11.7, 3), (12.3, 12.5, 0), (11.7, 13.6, 1),
    (10.0, 10.2, 4), (10.5, 9.7, 4), (10.9, 10.4, 4), (10.4, 10.8, 4),
    (8.6, 7.0, 4), (8.2, 5.0, 4), (7.2, 2.6, 1),
    (4.7, 0.3, 4), (5.2, -0.2, 4), (5.6, 0.5, 4), (6.0, 0.0, 4), (6.4, 0.4, 4), (5.4, -0.6, 4), (6.6, -0.5, 3),
    (10.2, 0.8, 1), (10.5, 0.0, 0), (10.8, -1.0, 1), (10.3, -2.5, 1), (11.6, -0.9, 6), (11.0, -2.0, 0),
    (-2.0, -3.6, 3), (1.2, -7.5, 6), (0.4, -10.2, 2),
]

B_ESM_ABS = [
    (-0.7, 4.2, 2), (-0.5, 4.8, 3), (-0.4, 5.5, 2), (-0.2, 6.2, 6), (0.0, 6.8, 3), (0.3, 7.3, 2),
    (0.6, 7.8, 3), (0.9, 8.2, 1), (1.3, 8.5, 3), (1.7, 8.8, 2), (2.1, 9.0, 3), (-0.1, 5.2, 3),
    (2.8, 9.6, 4), (3.2, 9.1, 0), (3.6, 10.2, 4), (4.0, 9.5, 0), (4.4, 10.8, 4), (4.8, 10.0, 3),
    (5.2, 11.1, 4), (5.6, 10.3, 1), (6.0, 11.6, 4), (6.4, 10.7, 4), (6.8, 11.8, 3), (7.2, 10.9, 0),
    (7.6, 11.4, 4), (8.0, 10.5, 6), (8.4, 11.0, 4), (8.8, 10.2, 1), (9.2, 10.8, 4), (9.6, 9.9, 0),
    (10.0, 10.5, 4), (10.4, 9.6, 3), (10.8, 9.9, 4), (11.2, 9.1, 1), (11.6, 8.7, 0), (11.9, 9.3, 4),
    (5.0, 9.6, 1), (7.0, 10.3, 4),
    (6.8, 5.3, 1), (7.2, 4.8, 0), (7.6, 5.0, 1), (8.0, 4.4, 0), (8.4, 4.0, 1), (8.8, 3.6, 0), (9.2, 3.2, 1),
    (9.6, 3.4, 0), (10.0, 2.8, 1), (10.4, 3.0, 0), (10.8, 2.5, 1), (11.2, 2.6, 0), (11.6, 2.3, 1),
    (12.0, 2.4, 0), (12.5, 2.1, 0), (13.0, 2.3, 1),
    (13.5, 3.0, 0), (13.8, 3.6, 0), (14.2, 4.0, 0), (14.6, 3.9, 0), (15.0, 3.5, 0), (15.2, 2.9, 0),
    (13.7, 2.5, 0), (14.1, 3.1, 0), (14.5, 3.4, 0), (14.9, 2.8, 0), (14.3, 2.4, 0), (14.7, 2.2, 0),
    (13.9, 2.1, 0), (14.0, 3.8, 0),
]

A_AAI_CODE = [
    (-5.6, 13.9, 6), (-5.3, 13.6, 6), (-5.0, 13.9, 6), (-5.4, 13.3, 6), (-5.8, 13.6, 6),
    (-4.9, 8.4, 6), (-4.7, 8.0, 6), (-4.5, 7.1, 6), (-4.4, 6.9, 6), (-3.9, 6.0, 6),
    (-2.4, 2.9, 6), (-2.1, 2.3, 5), (-1.6, 1.2, 6), (-1.1, 0.3, 6), (-0.8, 0.0, 5), (-0.9, 0.4, 6),
    (0.0, -0.6, 6), (0.6, -1.0, 5), (1.2, -1.3, 4), (1.8, -1.5, 6), (2.4, -1.8, 0), (3.0, -1.6, 4),
    (3.4, -2.0, 4), (3.8, -2.3, 4), (4.2, -1.8, 4), (3.6, -2.6, 4), (3.2, -2.3, 1), (4.0, -1.5, 5),
    (4.6, -1.9, 6), (5.2, -1.5, 5), (5.8, -1.2, 6), (6.4, -0.8, 4), (7.0, -0.3, 4), (7.3, 0.0, 4),
    (7.8, 0.3, 5), (8.4, 0.6, 4), (9.0, 1.0, 0), (9.5, 1.6, 4), (9.8, 2.3, 4), (10.2, 1.9, 4),
    (10.5, 2.6, 5), (10.3, 3.0, 4), (9.9, 2.8, 1), (10.8, 3.5, 0), (10.6, 4.2, 1), (10.9, 5.0, 0),
    (11.0, 5.8, 1), (10.8, 6.2, 4), (11.1, 6.8, 0), (11.3, 7.6, 1), (11.4, 8.5, 2),
    (11.1, 12.4, 0), (11.3, 13.0, 0), (11.8, 13.4, 0), (12.3, 13.1, 0), (12.6, 12.5, 0), (11.2, 11.8, 0),
    (11.7, 12.3, 0), (12.2, 12.5, 0), (12.5, 11.9, 0), (11.6, 11.6, 0), (12.0, 11.8, 0), (11.5, 12.9, 0),
    (12.1, 13.5, 0),
]

A_AAI_ABS = [
    (1.4, 5.8, 0), (1.6, 7.0, 0), (1.8, 4.8, 0), (2.0, 6.2, 0), (2.2, 5.2, 0), (2.3, 7.4, 1), (2.5, 4.3, 0),
    (2.7, 6.6, 0), (2.9, 5.6, 0), (3.1, 4.6, 0), (3.2, 7.2, 0), (3.4, 6.0, 0), (3.6, 5.0, 0), (3.8, 4.0, 0),
    (3.9, 6.6, 0), (4.1, 5.5, 0), (4.3, 4.5, 0), (4.5, 6.2, 0), (4.7, 5.0, 0), (4.9, 7.0, 1), (5.1, 5.8, 0),
    (5.4, 6.5, 0), (2.6, 5.0, 3), (3.5, 5.6, 1), (4.0, 7.5, 0), (1.9, 7.8, 0),
    (1.5, 6.4, 0), (1.7, 5.2, 0), (2.1, 7.0, 0), (2.4, 5.8, 0), (2.8, 4.9, 0), (3.0, 6.2, 0), (3.3, 5.2, 0),
    (3.5, 4.3, 0), (3.7, 6.4, 0), (4.2, 6.1, 0), (4.4, 4.0, 0), (4.6, 5.6, 0), (5.0, 6.4, 0), (5.2, 5.1, 0),
    (3.0, 7.6, 1), (2.6, 8.0, 3), (1.7, 8.4, 0),
    (2.0, 8.8, 4), (2.4, 9.5, 0), (2.8, 8.4, 3), (3.2, 9.8, 4), (3.5, 8.8, 0), (3.9, 10.1, 3), (4.3, 9.2, 4),
    (4.6, 8.3, 1), (5.0, 10.2, 4), (5.3, 9.4, 3), (5.7, 8.6, 4), (6.0, 10.0, 0), (6.3, 9.0, 4), (6.6, 7.9, 3),
    (7.0, 9.7, 4), (7.3, 8.6, 6), (7.6, 7.3, 3), (7.9, 9.4, 4), (8.2, 8.2, 3), (8.5, 9.6, 1), (8.8, 7.4, 4),
    (9.1, 8.8, 6), (9.4, 9.2, 3), (6.2, 7.0, 4), (5.5, 7.6, 3), (7.0, 6.4, 4),
    (2.2, 9.2, 4), (2.6, 8.9, 0), (3.4, 9.3, 3), (3.7, 8.2, 4), (4.1, 9.7, 0), (4.5, 8.7, 3), (4.8, 9.8, 4),
    (5.2, 8.6, 3), (5.5, 9.9, 4), (5.8, 9.3, 0), (6.2, 8.3, 3), (6.5, 9.6, 4), (6.8, 9.1, 3), (7.2, 8.0, 4),
    (7.5, 9.0, 6), (7.8, 8.6, 3), (8.0, 9.8, 4), (8.4, 8.8, 3), (8.7, 8.2, 6), (9.0, 9.5, 4), (9.3, 8.5, 3),
    (9.7, 9.0, 4), (10.0, 8.0, 3), (10.4, 8.4, 6), (10.8, 7.6, 3), (10.2, 6.2, 4), (9.8, 5.5, 6),
    (9.2, 7.0, 3), (8.5, 7.0, 3), (7.8, 7.6, 4), (7.3, 7.3, 3), (6.5, 7.5, 4), (5.8, 8.0, 4),
    (9.0, 6.5, 3), (9.3, 7.8, 4), (9.6, 5.6, 3), (9.8, 8.4, 6), (10.0, 6.9, 3), (10.3, 7.6, 6), (10.5, 5.5, 4),
    (10.7, 8.2, 3), (10.9, 6.4, 6), (10.6, 7.0, 3), (9.5, 6.2, 6), (10.2, 8.9, 3), (8.5, 6.1, 4),
    (3.0, 8.0, 4), (4.8, 9.0, 4), (6.8, 8.4, 3), (8.0, 6.8, 4), (5.8, 6.8, 1),
]

B_AAI_CODE = [
    (-5.0, 12.5, 0), (-4.7, 13.1, 0), (-4.2, 13.4, 0), (-3.7, 13.2, 0), (-3.3, 12.7, 0), (-4.9, 11.9, 0),
    (-4.4, 12.4, 0), (-3.9, 12.6, 0), (-3.4, 12.1, 0), (-4.6, 11.4, 0), (-4.1, 11.8, 0), (-3.6, 11.5, 0),
    (-4.2, 11.0, 0), (-4.0, 12.1, 0),
    (-1.4, 2.8, 0), (-1.1, 2.3, 1), (-1.3, 1.8, 0), (-0.9, 1.4, 3), (-1.0, 0.9, 0), (-0.7, 0.2, 4),
    (-0.5, -0.4, 4), (-0.1, -0.8, 4), (0.4, -0.6, 0), (0.9, -1.0, 4), (1.4, -1.2, 4), (2.0, -1.1, 1),
    (2.6, -1.3, 4), (3.2, -1.2, 4), (3.8, -1.3, 0), (4.4, -1.1, 4), (5.0, -0.9, 4), (5.4, -0.5, 4),
    (5.8, -1.2, 4), (6.2, -0.6, 4), (6.6, -1.0, 5), (6.0, -0.2, 4), (6.9, 0.0, 6), (7.2, 0.5, 6),
    (7.7, 0.9, 1), (8.1, 1.2, 0), (8.5, 1.0, 1), (8.9, 1.4, 3), (8.2, 0.8, 3),
    (9.8, 2.9, 6), (10.3, 3.6, 3), (10.8, 4.4, 6), (11.2, 5.1, 3), (11.6, 5.9, 6), (12.0, 6.7, 1),
    (12.4, 7.3, 3), (12.6, 7.0, 3), (12.7, 8.4, 6), (12.8, 9.2, 3), (12.6, 9.5, 3),
]

B_AAI_ABS = [
    (-5.0, 11.5, 6), (-4.7, 11.0, 3), (-5.2, 10.4, 3), (-4.9, 9.8, 6), (-4.6, 9.3, 2), (-4.8, 8.6, 3),
    (-4.3, 8.0, 1), (-4.0, 7.4, 2), (-3.8, 6.8, 1), (-4.2, 6.5, 2), (-5.3, 9.5, 6),
    (-2.8, 4.3, 1), (-2.4, 3.9, 0), (-2.6, 3.3, 1), (-2.2, 3.0, 3), (-2.5, 2.5, 0), (-2.0, 2.2, 1),
    (-2.7, 3.7, 4), (-1.6, 1.5, 4),
    (-0.8, 0.6, 4), (-0.4, 0.3, 4), (-0.6, -0.2, 4), (-0.2, -0.7, 4), (0.1, -1.2, 1), (0.5, -1.6, 4),
    (-0.9, -0.4, 3),
    (1.0, -1.8, 4), (1.6, -2.0, 1), (2.2, -2.2, 0), (2.8, -2.4, 4), (3.4, -2.2, 1), (4.0, -2.5, 4),
    (4.6, -2.1, 4), (5.0, -2.8, 4), (5.2, -3.3, 0), (4.8, -3.0, 3), (5.6, -2.7, 1), (6.2, -3.0, 0),
    (6.8, -3.1, 4), (7.4, -3.2, 1), (8.0, -3.3, 0), (8.6, -3.4, 1), (9.0, -3.6, 0), (9.3, -3.3, 0),
    (8.3, 11.0, 0), (8.6, 11.6, 0), (9.1, 11.9, 0), (9.6, 11.7, 0), (10.1, 11.3, 0), (10.4, 10.8, 0),
    (8.5, 10.4, 0), (9.0, 10.9, 0), (9.5, 11.2, 0), (10.0, 10.6, 0), (9.2, 10.2, 0), (9.7, 10.1, 0),
    (8.8, 11.3, 0),
]

A_ALL_CODE = [
    (-4.8, 13.9, 6), (-4.5, 13.6, 6), (-4.3, 14.0, 6), (-4.6, 13.3, 6),
    (-4.6, 8.3, 6), (-4.3, 8.0, 6), (-4.4, 7.7, 6), (-3.9, 7.0, 6), (-3.5, 6.0, 6),
    (-2.6, 3.0, 6), (-2.3, 2.3, 6), (-2.0, 1.6, 6), (-1.0, 0.3, 6), (-0.7, 0.2, 6), (-0.5, 0.4, 5),
    (0.2, -0.2, 0), (0.8, -0.3, 1), (1.4, -0.5, 4), (2.0, -0.5, 6), (2.6, -0.6, 1), (3.2, -0.5, 4),
    (3.5, -1.0, 4), (3.9, -1.3, 4), (4.2, -0.6, 4), (3.7, -0.2, 5), (4.4, -1.0, 4), (4.9, -0.5, 6),
    (5.5, -0.1, 5), (6.1, 0.2, 4), (6.7, 0.5, 6), (7.1, 1.0, 4), (7.4, 1.4, 4), (7.6, 0.9, 1),
    (8.6, 1.3, 5), (9.4, 2.2, 4), (9.9, 2.9, 0), (10.3, 3.6, 4), (10.7, 3.3, 4), (10.9, 4.0, 4),
    (10.5, 4.3, 1), (10.2, 3.0, 4), (10.7, 5.0, 0), (10.8, 6.0, 1), (10.6, 6.8, 0), (10.9, 7.6, 1),
    (10.8, 8.6, 0), (11.0, 9.6, 1), (11.1, 10.4, 2),
    (10.5, 12.6, 0), (10.8, 13.2, 0), (11.3, 13.5, 0), (11.8, 13.3, 0), (12.2, 12.8, 0), (10.6, 12.0, 0),
    (11.1, 12.5, 0), (11.6, 12.7, 0), (12.1, 12.2, 0), (11.0, 11.9, 0), (11.5, 11.8, 0), (11.9, 12.0, 0),
    (11.4, 13.0, 0),
]

A_ALL_ABS = [
    (-1.8, 4.0, 0), (-1.5, 4.8, 0), (-1.0, 5.2, 0), (-0.4, 5.0, 0), (0.2, 4.7, 0), (0.8, 4.4, 0),
    (1.3, 4.0, 0), (-1.6, 3.3, 0), (-1.1, 4.2, 0), (-0.5, 4.3, 0), (0.1, 3.9, 0), (0.7, 3.6, 0),
    (1.2, 3.2, 1), (-1.2, 3.0, 0), (-0.6, 3.5, 0), (0.0, 3.0, 0), (0.6, 2.7, 0), (-0.9, 2.5, 0),
    (-0.2, 2.3, 0), (1.6, 3.6, 0), (0.3, 3.3, 3), (-0.7, 4.6, 3),
    (-1.7, 4.5, 0), (-1.3, 5.0, 0), (-0.7, 5.3, 0), (-0.1, 5.2, 0), (0.5, 4.9, 0), (1.0, 4.6, 0),
    (-1.4, 3.7, 0), (-0.8, 3.9, 0), (-0.2, 4.6, 0), (0.4, 4.2, 0), (1.0, 3.9, 0), (-1.5, 2.8, 0),
    (-0.3, 2.8, 0), (0.3, 2.6, 0), (0.9, 3.0, 0), (1.5, 4.2, 0), (-0.6, 2.2, 0),
    (2.0, 3.4, 1), (2.4, 3.8, 0), (2.8, 3.2, 4),
    (3.2, 4.3, 4), (3.4, 3.0, 4), (3.7, 3.7, 3), (4.0, 4.6, 4), (4.2, 2.6, 4), (4.5, 3.4, 1), (4.8, 4.2, 4),
    (5.0, 2.2, 4), (5.3, 3.0, 4), (5.5, 4.7, 3), (5.8, 3.7, 4), (6.0, 2.4, 1), (6.2, 4.3, 4), (6.5, 3.1, 4),
    (6.8, 4.8, 4), (7.0, 2.1, 4), (7.3, 3.6, 6), (7.5, 4.4, 4), (7.8, 2.6, 4), (8.0, 3.2, 3), (8.3, 4.6, 4),
    (8.5, 2.3, 0), (8.8, 3.8, 4), (9.0, 3.0, 4), (9.3, 4.2, 1), (9.6, 2.6, 4), (9.8, 3.6, 4), (6.0, 3.3, 5),
    (7.2, 2.9, 4), (5.0, 3.8, 4),
    (3.0, 3.8, 4), (3.3, 2.7, 4), (3.5, 4.5, 3), (3.9, 3.2, 4), (4.1, 4.0, 4), (4.4, 2.3, 3), (4.6, 4.8, 4),
    (4.9, 3.0, 4), (5.2, 4.4, 4), (5.4, 2.6, 4), (5.7, 3.2, 3), (5.9, 4.8, 4), (6.1, 2.9, 4), (6.4, 3.8, 1),
    (6.6, 2.4, 4), (6.9, 4.2, 3), (7.1, 3.3, 4), (7.4, 2.4, 4), (7.7, 4.0, 4), (7.9, 4.8, 3), (8.1, 2.3, 4),
    (8.4, 3.5, 4), (8.7, 4.7, 4), (8.9, 2.6, 3), (9.1, 3.5, 4), (9.4, 2.3, 4), (9.7, 4.3, 3), (9.9, 3.1, 4),
    (5.6, 4.2, 5), (6.7, 3.5, 4),
    (10.2, 3.0, 3), (10.5, 3.9, 3), (10.8, 2.7, 4), (11.1, 4.4, 3), (11.4, 3.4, 6), (11.7, 4.0, 3),
    (12.0, 4.8, 6), (12.3, 3.5, 3), (12.6, 5.0, 3), (12.9, 4.2, 6), (13.2, 5.2, 6), (13.3, 4.5, 6),
    (12.2, 2.9, 6), (11.0, 3.5, 4),
    (10.4, 3.4, 3), (10.7, 4.3, 3), (11.2, 3.0, 3), (11.5, 4.6, 3), (11.8, 3.5, 3), (12.4, 4.3, 6),
    (12.7, 4.6, 3), (13.0, 5.0, 6), (12.6, 3.7, 3), (13.1, 4.7, 3), (11.9, 4.8, 3),
]

B_ALL_CODE = [
    (-3.0, 12.9, 0), (-2.7, 13.5, 0), (-2.2, 13.7, 0), (-1.7, 13.4, 0), (-1.4, 12.8, 0), (-2.9, 12.2, 0),
    (-2.4, 12.7, 0), (-1.9, 12.9, 0), (-1.6, 12.2, 0), (-2.6, 11.8, 0), (-2.1, 12.1, 0), (-2.3, 11.4, 0),
    (-2.2, 13.2, 0),
    (-1.1, 3.9, 0), (-0.9, 3.4, 1), (-1.0, 2.8, 0), (-0.7, 2.4, 3), (-0.5, 1.8, 0), (-0.3, 1.2, 4),
    (0.0, 0.6, 4), (0.3, 0.2, 4), (0.6, 0.6, 1), (0.9, -0.1, 4), (1.4, 0.1, 4), (1.9, -0.3, 0), (2.4, 0.0, 4),
    (2.9, -0.4, 1), (3.4, -0.2, 4), (3.9, -0.5, 3), (4.4, -0.3, 4), (4.9, -0.6, 4), (5.3, -0.2, 4),
    (5.6, -0.8, 4), (6.0, -0.4, 4), (5.8, 0.2, 4), (6.2, -1.0, 4), (6.6, -0.5, 6), (7.1, -0.2, 6),
    (7.6, 0.1, 1), (8.1, 0.2, 0), (8.5, 0.4, 1), (8.9, 0.6, 0), (9.2, 0.9, 3),
    (11.3, 3.8, 6), (11.6, 4.5, 3), (11.9, 5.1, 6), (12.2, 5.6, 1), (12.6, 6.3, 3), (13.0, 7.0, 6),
    (13.4, 7.7, 3), (13.7, 8.1, 6), (14.2, 8.8, 3), (14.6, 9.4, 6), (15.0, 9.8, 3), (14.8, 10.0, 6),
]

B_ALL_ABS = [
    (-4.9, 15.2, 0), (-4.5, 15.6, 0), (-4.1, 15.4, 0), (-3.7, 15.0, 0), (-4.6, 14.8, 0), (-4.2, 14.6, 0),
    (-3.8, 14.4, 0),
    (-5.8, 14.3, 0), (-5.6, 13.3, 1), (-5.3, 12.4, 0), (-4.8, 11.6, 0), (-4.2, 10.8, 1), (-3.5, 10.1, 0),
    (-2.8, 9.6, 0), (-2.0, 9.1, 1), (-1.2, 8.6, 0), (-0.4, 8.2, 0), (0.4, 7.8, 1), (1.2, 7.5, 0),
    (2.0, 7.2, 0), (2.8, 7.0, 1),
    (-3.8, 13.3, 0), (-3.3, 12.2, 0), (-2.7, 11.2, 1), (-2.0, 10.4, 0), (-1.2, 9.9, 0), (-0.4, 9.5, 1),
    (0.4, 9.0, 0), (1.0, 8.3, 0), (-2.6, 9.9, 3),
    (3.4, 7.2, 0), (3.9, 7.6, 1), (4.4, 8.3, 0), (4.8, 9.1, 0), (5.1, 9.9, 1), (5.3, 10.7, 0), (5.5, 11.4, 0),
    (4.9, 4.2, 1), (5.2, 3.5, 6), (5.5, 2.8, 4), (5.8, 2.0, 3), (6.0, 1.2, 4), (6.2, 0.4, 0), (6.4, -0.4, 4),
    (6.5, -1.2, 1),
    (6.2, -2.0, 4), (5.8, -2.8, 4), (5.3, -3.2, 0), (4.8, -3.0, 4), (4.2, -3.6, 4), (3.6, -4.2, 1),
    (3.0, -4.8, 4), (2.6, -5.5, 4), (2.2, -6.2, 4), (1.9, -6.9, 4), (2.3, -7.4, 4), (3.0, -7.0, 4),
    (3.6, -6.4, 4), (4.2, -5.7, 6), (4.7, -5.0, 4), (5.2, -4.4, 4), (5.6, -3.8, 3), (4.0, -4.6, 4),
    (3.4, -5.6, 0), (2.8, -6.5, 4), (5.0, -6.0, 4), (4.5, -6.6, 4), (3.9, -7.1, 4), (5.5, -5.3, 1),
    (6.0, -4.5, 4),
    (7.0, -0.3, 3), (7.6, 0.6, 6), (8.2, 1.5, 3), (8.8, 2.4, 4), (9.4, 3.3, 6), (10.0, 4.3, 3),
    (10.6, 5.2, 3), (11.2, 6.1, 6), (11.8, 7.0, 3), (12.4, 7.9, 4), (13.0, 8.8, 3), (13.6, 9.7, 6),
    (14.2, 10.6, 3), (14.8, 11.5, 6), (15.3, 12.3, 3), (15.7, 13.0, 3), (16.0, 13.6, 6),
]

# ---- panel layout: grid order, axis limits, tick ranges, marker size ----
PANELS = [
    (A_SEQ_CODE, "Coding vectors of sequence information", (-3.46, 16.5), (-4.46, 16.4), (-2.5, 15, 2.5), (-2.5, 15, 2.5), 8),
    (A_SEQ_ABS, "Abstract feature of sequence information", (-4.05, 13.4), (-2.7, 15.2), (-4, 12, 2), (-2, 14, 2), 8),
    (B_SEQ_CODE, "Coding vectors of sequence information", (-6.1, 13.1), (-3.25, 15.4), (-5, 12.5, 2.5), (-2.5, 15, 2.5), 6),
    (B_SEQ_ABS, "Abstract feature of sequence information", (-5.64, 15.9), (-4.7, 16.6), (-5, 15, 2.5), (-2.5, 15, 2.5), 6),
    (A_ONEHOT_CODE, "Coding vectors of one-hot", (14.24, 28.4), (-11.1, 3.14), (16, 28, 2), (-10, 2, 2), 8),
    (A_ONEHOT_ABS, "Abstract feature of one-hot", (-1.6, 12.07), (-2.07, 12.0), (0, 12, 2), (0, 10, 2), 7),
    (B_ONEHOT_CODE, "Coding vectors of one-hot", (25.53, 35.3), (0.38, 10.54), (26, 34, 2), (2, 10, 2), 5),
    (B_ONEHOT_ABS, "Abstract feature of one-hot", (-1.0, 19.6), (-4.03, 16.6), (0, 17.5, 2.5), (-2.5, 15, 2.5), 6),
    (A_PROT_CODE, "Coding vectors of ProtT5", (-8.25, 19.9), (-2.8, 25.1), (-5, 15, 5), (0, 20, 5), 5),
    (A_PROT_ABS, "Abstract feature of ProtT5", (0.57, 12.83), (-3.5, 8.56), (2, 12, 2), (-2, 8, 2), 6),
    (B_PROT_CODE, "Coding vectors of ProtT5", (-7.2, 6.44), (3.5, 17.0), (-6, 6, 2), (4, 16, 2), 5),
    (B_PROT_ABS, "Abstract feature of ProtT5", (-2.43, 12.15), (1.8, 16.4), (-2, 12, 2), (2, 16, 2), 6),
    (A_ESM_CODE, "Coding vectors of ESM-2", (-17.06, 25.6), (-16.15, 26.7), (-15, 25, 5), (-15, 25, 5), 4),
    (A_ESM_ABS, "Abstract feature of ESM-2", (-5.63, 15.5), (-5.8, 14.7), (-5, 12.5, 2.5), (-5, 12.5, 2.5), 6),
    (B_ESM_CODE, "Coding vectors of ESM-2", (-16.9, 22.3), (-12.2, 27.9), (-15, 20, 5), (-10, 25, 5), 4),
    (B_ESM_ABS, "Abstract feature of ESM-2", (-1.48, 16.4), (-2.5, 16.2), (0, 15, 2.5), (0, 15, 2.5), 6),
    (A_AAI_CODE, "Coding vectors of AAindex1", (-6.7, 13.9), (-4.6, 16.1), (-5, 12.5, 2.5), (-2.5, 15, 2.5), 5),
    (A_AAI_ABS, "Abstract feature of AAindex1", (0.73, 11.6), (1.55, 12.45), (2, 10, 2), (2, 12, 2), 6),
    (B_AAI_CODE, "Coding vectors of AAindex1", (-5.97, 14.1), (-3.9, 15.8), (-5, 12.5, 2.5), (-2.5, 15, 2.5), 5),
    (B_AAI_ABS, "Abstract feature of AAindex1", (-6.05, 11.2), (-4.5, 12.8), (-6, 10, 2), (-4, 12, 2), 5),
    (A_ALL_CODE, "Coding vectors of all information", (-5.93, 13.3), (-3.5, 16.2), (-5, 12.5, 2.5), (-2.5, 15, 2.5), 5),
    (A_ALL_ABS, "Abstract feature of all information", (-2.5, 14.46), (-4.8, 12.37), (-2, 14, 2), (-4, 12, 2), 7),
    (B_ALL_CODE, "Coding vectors of all information", (-3.9, 17.1), (-4.0, 16.1), (-2.5, 15, 2.5), (-2.5, 15, 2.5), 5),
    (B_ALL_ABS, "Abstract feature of all information", (-7.07, 17.5), (-8.3, 16.3), (-5, 15, 5), (-5, 15, 5), 4),
]

plt.rcParams["font.family"] = ["Liberation Serif", "DejaVu Serif"]

W, H = 685, 964
fig = plt.figure(figsize=(W / 100, H / 100), dpi=100)
fig.patch.set_facecolor("white")

cmap = ListedColormap(plt.get_cmap("Spectral")(np.linspace(0, 1, 7)))
norm = BoundaryNorm(np.arange(8), 7)

COL_LEFT = [19, 189, 359, 529]
ROW_TOP = [35, 194, 353, 512, 672, 832]
AX_W, AX_H = 124, 123
CB_GAP, CB_W = 7, 7


def ticks(spec):
    a, b, step = spec
    return np.arange(a, b + step / 2, step)


for i, (pts, title, xlim, ylim, xt, yt, size) in enumerate(PANELS):
    r, c = divmod(i, 4)
    left = COL_LEFT[c] / W
    bottom = 1 - (ROW_TOP[r] + AX_H) / H
    ax = fig.add_axes([left, bottom, AX_W / W, AX_H / H])
    xs, ys, cls = zip(*pts)
    ax.scatter(xs, ys, c=cls, cmap=cmap, norm=norm, s=size, linewidths=0)
    ax.set_xlim(xlim)
    ax.set_ylim(ylim)
    ax.set_xticks(ticks(xt))
    ax.set_yticks(ticks(yt))
    fmt_x = "%.1f" if xt[2] % 1 else "%d"
    fmt_y = "%.1f" if yt[2] % 1 else "%d"
    ax.xaxis.set_major_formatter(FormatStrFormatter(fmt_x))
    ax.yaxis.set_major_formatter(FormatStrFormatter(fmt_y))
    ax.tick_params(labelsize=4.4, length=1.5, width=0.4, color="#8a8a8a",
                   labelcolor="#333333", pad=1.0)
    for sp in ax.spines.values():
        sp.set_edgecolor("#bdbdbd")
        sp.set_linewidth(0.8)
    ax.set_title(title, fontsize=7.3, pad=2)

    cax = fig.add_axes([(COL_LEFT[c] + AX_W + CB_GAP) / W, bottom, CB_W / W, AX_H / H])
    cb = fig.colorbar(ScalarMappable(norm=norm, cmap=cmap), cax=cax, ticks=np.arange(7) + 0.5)
    cb.ax.set_yticklabels(CLASSES)
    cb.outline.set_visible(False)
    cax.tick_params(length=0, labelsize=5.7, pad=0.8)

fig.text(3 / W, 1 - 21 / H, "A", fontsize=17)
fig.text(343 / W, 1 - 21 / H, "B", fontsize=17)

fig.savefig("out.png", dpi=100, facecolor="white")
